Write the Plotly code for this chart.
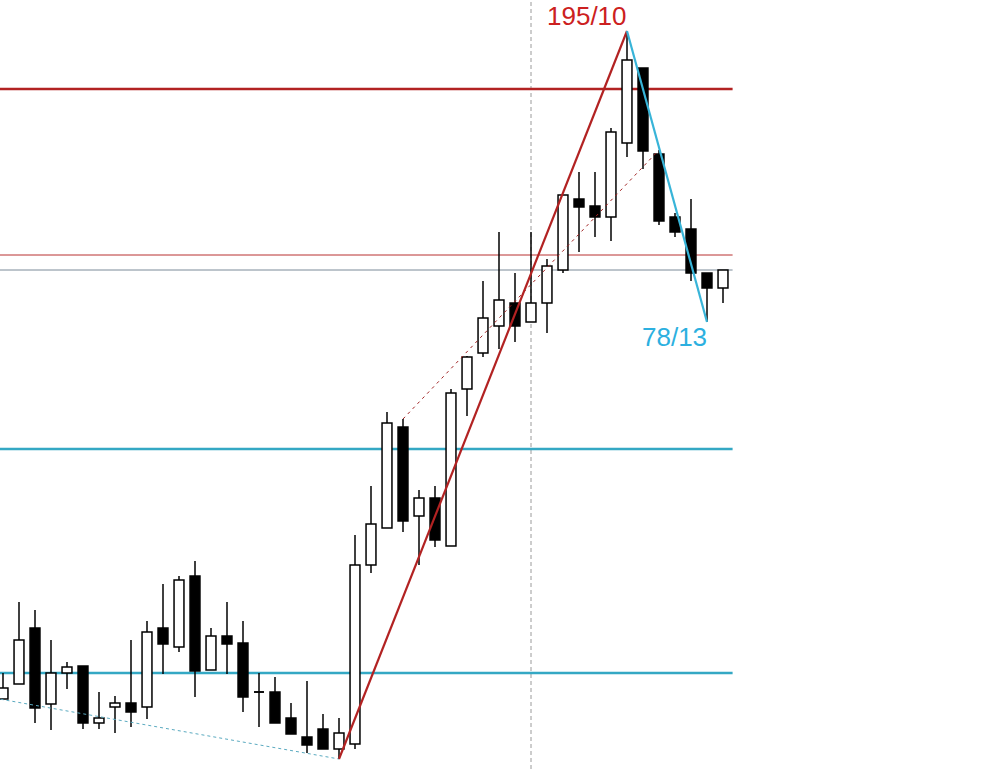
import plotly.graph_objects as go

# ---- data (price units; no axis shown) ----
bar_index = list(range(46))
open_ = [70, 85, 141, 65, 96, 103, 46, 62, 66, 62, 141, 122, 193, 99, 133, 126, 77, 77, 51, 32,
         40, 20, 25, 204, 241, 342, 253, 271, 223, 380, 416, 443, 466, 447, 466, 499, 570, 563, 552, 626,
         701, 615, 552, 540, 496, 481]
high = [96, 167, 159, 129, 107, 103, 77, 73, 129, 148, 185, 193, 208, 141, 167, 148, 96, 92, 66, 88,
        55, 51, 234, 283, 357, 350, 279, 283, 380, 413, 488, 537, 496, 537, 510, 574, 597, 597, 641, 738,
        701, 619, 556, 570, 496, 499]
low = [70, 85, 46, 39, 80, 40, 40, 36, 42, 50, 95, 117, 72, 99, 95, 57, 42, 46, 35, 16,
       20, 10, 20, 196, 241, 237, 204, 222, 223, 353, 412, 420, 427, 447, 436, 496, 517, 532, 528, 612,
       600, 544, 532, 488, 447, 466]
close = [81, 129, 61, 96, 102, 46, 51, 66, 57, 137, 125, 189, 98, 133, 125, 72, 77, 46, 35, 24,
         20, 36, 204, 245, 346, 248, 271, 229, 376, 412, 451, 469, 443, 466, 503, 574, 562, 552, 637, 709,
         618, 548, 537, 496, 481, 499]

# horizontal levels
level_red_thick = 680
level_red_thin = 514
level_last = 499
level_cyan_hi = 320
level_cyan_lo = 96

# swing lines (bar index, price)
up_leg_x = [21, 39]
up_leg_y = [10, 738]
down_leg_x = [39, 44]
down_leg_y = [738, 447]
low_trend_x = [-2, 21]
low_trend_y = [75, 10]
mid_trend_x = [25, 41]
mid_trend_y = [350, 619]
vline_bar = 33
level_end = 45.6

label_up = "195/10"
label_up_pos = (36.47, 753)
label_down = "78/13"
label_down_pos = (41.94, 432)

BODY_W = 0.62

fig = go.Figure()

# wicks: drawn as segments above and below the body (so they never cross the body)
wx, wy = [], []
dx, dy = [], []
for i, o, h, l, c in zip(bar_index, open_, high, low, close):
    top, bot = max(o, c), min(o, c)
    if h > top:
        wx += [i, i, None]; wy += [top, h, None]
    if l < bot:
        wx += [i, i, None]; wy += [bot, l, None]
    if o == c:
        dx += [i - BODY_W / 2, i + BODY_W / 2, None]; dy += [o, o, None]

fig.add_trace(go.Scatter(x=wx, y=wy, mode="lines", line=dict(color="black", width=1.5),
                         showlegend=False, hoverinfo="skip"))
fig.add_trace(go.Scatter(x=dx, y=dy, mode="lines", line=dict(color="black", width=1.5),
                         showlegend=False, hoverinfo="skip"))

body_base = [min(o, c) for o, c in zip(open_, close)]
body_h = [abs(c - o) for o, c in zip(open_, close)]
body_fill = ["white" if c > o else "black" for o, c in zip(open_, close)]
fig.add_trace(go.Bar(x=bar_index, y=body_h, base=body_base, width=BODY_W,
                     marker=dict(color=body_fill, line=dict(color="black", width=1.5)),
                     showlegend=False, hoverinfo="skip"))

fig.add_trace(go.Scatter(x=low_trend_x, y=low_trend_y, mode="lines",
                         line=dict(color="#5aaac0", width=1, dash="3px,3px"),
                         showlegend=False, hoverinfo="skip"))
fig.add_trace(go.Scatter(x=mid_trend_x, y=mid_trend_y, mode="lines",
                         line=dict(color="#a02020", width=1, dash="3px,4px"),
                         showlegend=False, hoverinfo="skip"))
fig.add_trace(go.Scatter(x=up_leg_x, y=up_leg_y, mode="lines",
                         line=dict(color="#b22222", width=2.2),
                         showlegend=False, hoverinfo="skip"))
fig.add_trace(go.Scatter(x=down_leg_x, y=down_leg_y, mode="lines",
                         line=dict(color="#38b4d8", width=2.2),
                         showlegend=False, hoverinfo="skip"))

shapes = [
    dict(type="line", xref="x", yref="paper", x0=vline_bar, x1=vline_bar, y0=0, y1=1,
         line=dict(color="#9a9a9a", width=1, dash="4px,3px"), layer="below"),
    dict(type="line", xref="x", yref="y", x0=-5, x1=level_end, y0=level_red_thick, y1=level_red_thick,
         line=dict(color="#b22222", width=2.5), layer="below"),
    dict(type="line", xref="x", yref="y", x0=-5, x1=level_end, y0=level_red_thin, y1=level_red_thin,
         line=dict(color="#b83030", width=1), layer="below"),
    dict(type="line", xref="x", yref="y", x0=-5, x1=level_end, y0=level_last, y1=level_last,
         line=dict(color="#7a8a98", width=1), layer="below"),
    dict(type="line", xref="x", yref="y", x0=-5, x1=level_end, y0=level_cyan_hi, y1=level_cyan_hi,
         line=dict(color="#34a8c4", width=2.5), layer="below"),
    dict(type="line", xref="x", yref="y", x0=-5, x1=level_end, y0=level_cyan_lo, y1=level_cyan_lo,
         line=dict(color="#34a8c4", width=2.5), layer="below"),
]

annotations = [
    dict(x=label_up_pos[0], y=label_up_pos[1], xref="x", yref="y", text=label_up, showarrow=False,
         font=dict(family="Liberation Sans, Arial", size=26, color="#cc2020"), xanchor="center", yanchor="middle"),
    dict(x=label_down_pos[0], y=label_down_pos[1], xref="x", yref="y", text=label_down, showarrow=False,
         font=dict(family="Liberation Sans, Arial", size=26, color="#2cb0e0"), xanchor="center", yanchor="middle"),
]

fig.update_layout(
    width=1000, height=769,
    margin=dict(l=0, r=0, t=0, b=0),
    paper_bgcolor="white", plot_bgcolor="white",
    shapes=shapes, annotations=annotations,
    xaxis=dict(range=[-0.1875, 62.3125], visible=False, fixedrange=True),
    yaxis=dict(range=[0, 769], visible=False, fixedrange=True),
    showlegend=False, barmode="overlay",
)

fig.write_html("out.html", config={"displayModeBar": False},
               post_script="document.body.style.margin='0px';document.body.style.overflow='hidden';")
